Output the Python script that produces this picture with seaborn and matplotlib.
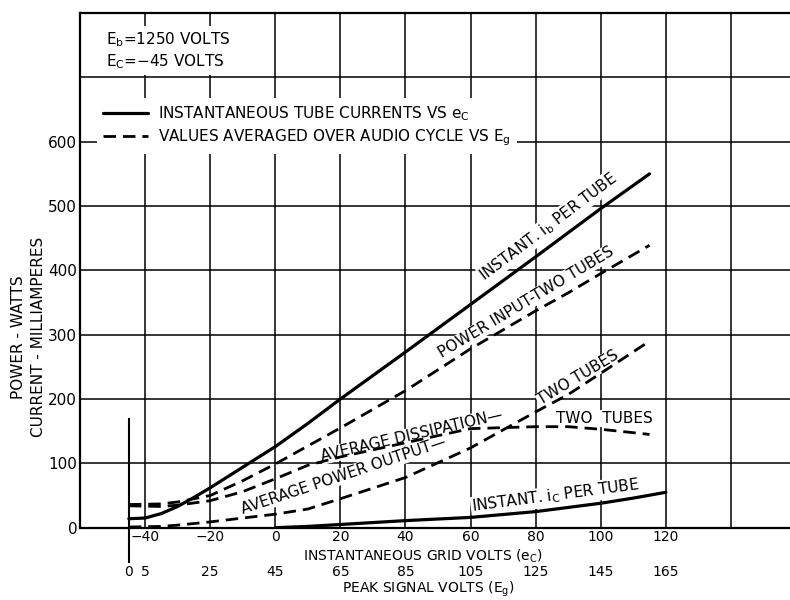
import numpy as np
import seaborn as sns
import matplotlib.pyplot as plt
from matplotlib.lines import Line2D

# Eg (peak signal) = ec (instantaneous grid) + bias
BIAS = 45

# instantaneous curves vs ec
ec_ib = [-45, -40, -35, -30, -25, -20, -10, 0, 10, 20, 40, 60, 80, 100, 115]
ib_per_tube = [14, 15, 22, 33, 47, 62, 94, 126, 162, 200, 273, 347, 421, 496, 550]

ec_ic = [0, 10, 20, 30, 40, 60, 80, 100, 110, 120]
ic_per_tube = [0, 2, 5, 8, 11, 16, 25, 38, 46, 55]

# averaged values vs Eg
eg_avg = [0, 10, 15, 25, 35, 45, 55, 65, 85, 105, 125, 135, 145, 160]
power_input = [36, 37, 40, 50, 73, 99, 127, 155, 213, 278, 337, 365, 395, 439]
dissipation = [34, 33, 35, 42, 56, 76, 97, 110, 132, 154, 157, 157, 153, 145]
power_output = [1, 2, 4, 9, 15, 21, 29, 45, 78, 124, 180, 207, 240, 290]

ec_ticks = [-40, -20, 0, 20, 40, 60, 80, 100, 120, 140]
ec_labels = ["\u221240", "\u221220", "0", "20", "40", "60", "80", "100", "120", ""]
eg_ticks = [0, 5, 25, 45, 65, 85, 105, 125, 145, 165]
y_ticks = [0, 100, 200, 300, 400, 500, 600, 700]
y_labels = ["0", "100", "200", "300", "400", "500", "600", ""]

sns.set_style("white")
plt.rcParams["font.family"] = ["DejaVu Sans"]
plt.rcParams["mathtext.default"] = "regular"
for k in ["text.color", "axes.labelcolor", "xtick.color", "ytick.color"]:
    plt.rcParams[k] = "black"
FS = 11
FS_B = 10  # the four stacked rows under the axis
DASH = (0, (4.5, 2.5))

fig = plt.figure(figsize=(7.9, 6), dpi=100)
ax = fig.add_axes([80 / 790, 72.3 / 600, 716 / 790, 514.7 / 600])

ec_avg = np.array(eg_avg) - BIAS
line_kw = dict(color="black", ax=ax, errorbar=None, zorder=4)
sns.lineplot(x=ec_ib, y=ib_per_tube, lw=2.3, **line_kw)
sns.lineplot(x=ec_ic, y=ic_per_tube, lw=2.3, **line_kw)
sns.lineplot(x=ec_avg, y=power_input, lw=2.0, linestyle=DASH, **line_kw)
sns.lineplot(x=ec_avg, y=dissipation, lw=2.0, linestyle=DASH, **line_kw)
sns.lineplot(x=ec_avg, y=power_output, lw=2.0, linestyle=DASH, **line_kw)

# zero-signal marker (Eg = 0)
ax.vlines(-BIAS, -55, 170, color="black", lw=1.5, clip_on=False, zorder=4)

ax.set_xlim(-60, 160)
ax.set_ylim(0, 800)
ax.set_xticks(ec_ticks)
ax.set_xticklabels(ec_labels)
ax.set_yticks(y_ticks)
ax.set_yticklabels(y_labels)
ax.tick_params(length=0)
ax.tick_params(axis="x", pad=2, labelsize=FS_B)
ax.tick_params(axis="y", pad=2, labelsize=FS)
ax.grid(True, color="black", lw=1.1)
ax.set_axisbelow(True)
for s in ax.spines.values():
    s.set_color("black")
    s.set_linewidth(1.6)

ax.set_xlabel("INSTANTANEOUS GRID VOLTS ($e_C$)", fontsize=FS_B)
ax.xaxis.set_label_coords(0.479, -0.038)
ax.set_ylabel("POWER - WATTS\nCURRENT - MILLIAMPERES", fontsize=FS, linespacing=1.4)
ax.yaxis.set_label_coords(-0.048, 0.37)

sec = ax.secondary_xaxis(-0.072, functions=(lambda e: e + BIAS, lambda g: g - BIAS))
sec.set_xticks(eg_ticks)
sec.tick_params(length=0, pad=0, labelsize=FS_B)
sec.spines["bottom"].set_visible(False)
sec.set_xlabel("PEAK SIGNAL VOLTS ($E_g$)", fontsize=FS_B)
sec.xaxis.set_label_coords(0.487, -0.102, transform=ax.transAxes)

# legend
handles = [Line2D([], [], color="black", lw=2.3),
           Line2D([], [], color="black", lw=2.0, linestyle=DASH)]
labels = ["INSTANTANEOUS TUBE CURRENTS VS $e_C$",
          "VALUES AVERAGED OVER AUDIO CYCLE VS $E_g$"]
ax.legend(handles, labels, loc="upper left", bbox_to_anchor=(0.024, 0.834),
          borderaxespad=0, frameon=True, fancybox=False, edgecolor="none",
          facecolor="white", framealpha=1, handlelength=2.9, handletextpad=0.7,
          labelspacing=0.25, borderpad=0.4, fontsize=FS)

# operating conditions
box = dict(facecolor="white", edgecolor="none", pad=3)
ax.text(0.036, 0.967, "$E_b$=1250 VOLTS", transform=ax.transAxes, fontsize=FS,
        va="top", ha="left", bbox=box)
ax.text(0.036, 0.924, "$E_C$=\u221245 VOLTS", transform=ax.transAxes, fontsize=FS,
        va="top", ha="left", bbox=box)

# curve labels
lab = dict(fontsize=FS, ha="center", va="center", rotation_mode="anchor",
           bbox=dict(facecolor="white", edgecolor="none", pad=0.5), zorder=3)
ax.text(84, 468, "INSTANT. $i_b$ PER TUBE", rotation=37, **lab)
ax.text(77, 350, "POWER INPUT-TWO TUBES", rotation=31, **lab)
ax.text(42, 143, "AVERAGE DISSIPATION\u2014", rotation=13, **lab)
ax.text(101, 170, "TWO  TUBES", rotation=0, **lab)
ax.text(21, 81, "AVERAGE POWER OUTPUT\u2014", rotation=18.5, **lab)
ax.text(93, 233, "TWO TUBES", rotation=31, **lab)
ax.text(86, 49, "INSTANT. $i_C$ PER TUBE", rotation=7.5, **lab)

fig.savefig("out.png", dpi=100)
